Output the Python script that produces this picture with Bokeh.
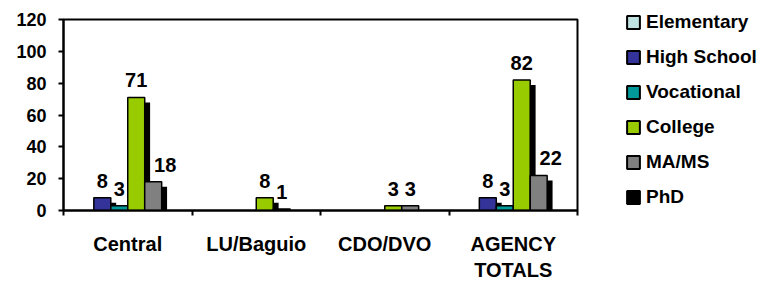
from bokeh.plotting import figure
from bokeh.models import ColumnDataSource, Range1d, FixedTicker, Legend, LegendItem
from bokeh.layouts import row
from bokeh.core.properties import value
from bokeh.embed import file_html
from bokeh.resources import INLINE

categories = ["Central", "LU/Baguio", "CDO/DVO", "AGENCY\nTOTALS"]
series_names = ["Elementary", "High School", "Vocational", "College", "MA/MS", "PhD"]
elementary = [0, 0, 0, 0]
high_school = [8, 0, 0, 8]
vocational = [3, 0, 0, 3]
college = [71, 8, 3, 82]
ma_ms = [18, 1, 3, 22]
phd = [0, 0, 0, 0]
series_values = [elementary, high_school, vocational, college, ma_ms, phd]
colors = ["#BFE2E2", "#333399", "#009999", "#99CC00", "#808080", "#000000"]
y_ticks = [0, 20, 40, 60, 80, 100, 120]

FONT = value("Liberation Sans")
BAR_W = 0.132
SH_DX = 0.042
SH_DY = 3.1

p = figure(width=579, height=283, output_backend="svg", toolbar_location=None,
           x_range=Range1d(0, 4), y_range=Range1d(0, 120),
           min_border_left=63, min_border_right=2, min_border_top=19, min_border_bottom=70)
p.xgrid.visible = False
p.ygrid.visible = False
p.outline_line_color = "black"
p.outline_line_width = 2
p.background_fill_color = "white"
p.border_fill_color = "white"

# shadows first
sh = dict(left=[], right=[], top=[])
for i, vals in enumerate(series_values):
    for c, v in enumerate(vals):
        if v > 0:
            xc = c + 0.5 + (i - 2.5) * BAR_W
            sh["left"].append(xc - BAR_W / 2 + SH_DX)
            sh["right"].append(xc + BAR_W / 2 + SH_DX)
            sh["top"].append(max(0.0, v - SH_DY))
sh["bottom"] = [0] * len(sh["top"])
p.quad(left="left", right="right", top="top", bottom="bottom", source=ColumnDataSource(sh),
       fill_color="black", line_color=None)

lab = dict(x=[], y=[], text=[], xo=[])
for i, (name, vals, col) in enumerate(zip(series_names, series_values, colors)):
    xs = [c + 0.5 + (i - 2.5) * BAR_W for c, v in enumerate(vals) if v > 0]
    tops = [v for v in vals if v > 0]
    src = ColumnDataSource(dict(x=xs, top=tops))
    p.vbar(x="x", top="top", width=BAR_W, bottom=0, source=src,
           fill_color=col, line_color="black", line_width=1.5)
    for c, v in enumerate(vals):
        if v > 0:
            lab["x"].append(c + 0.5 + (i - 2.5) * BAR_W)
            lab["y"].append(v)
            lab["text"].append(str(v))
            prev = series_values[i - 1][c] if i > 0 else 0
            lab["xo"].append(12 if prev > v + 10 else 0)

p.text(x="x", y="y", text="text", x_offset="xo", source=ColumnDataSource(lab),
       text_font=FONT, text_font_style="bold", text_font_size="20px",
       text_align="center", text_baseline="alphabetic", y_offset=-17, text_color="black")

# axes
xa = p.xaxis[0]
xa.ticker = FixedTicker(ticks=[0.5, 1.5, 2.5, 3.5], minor_ticks=[0, 1, 2, 3, 4])
xa.major_label_overrides = {0.5: categories[0], 1.5: categories[1], 2.5: categories[2], 3.5: categories[3]}
xa.major_tick_line_color = None
xa.major_tick_out = 0
xa.major_tick_in = 0
xa.minor_tick_out = 5
xa.minor_tick_in = 0
xa.minor_tick_line_color = "black"
xa.minor_tick_line_width = 2
xa.axis_line_width = 2
xa.axis_line_color = "black"
xa.major_label_standoff = 17
xa.major_label_text_font = "Liberation Sans"
xa.major_label_text_font_style = "bold"
xa.major_label_text_font_size = "20px"
xa.major_label_text_color = "black"

ya = p.yaxis[0]
ya.ticker = FixedTicker(ticks=y_ticks, minor_ticks=[])
ya.major_tick_out = 5
ya.major_tick_in = 0
ya.major_tick_line_width = 2
ya.major_tick_line_color = "black"
ya.minor_tick_line_color = None
ya.axis_line_width = 2
ya.axis_line_color = "black"
ya.major_label_standoff = 12
ya.major_label_text_font = "Liberation Sans"
ya.major_label_text_font_style = "bold"
ya.major_label_text_font_size = "18px"
ya.major_label_text_color = "black"

# legend panel
p2 = figure(width=191, height=283, output_backend="svg", toolbar_location=None,
            x_range=Range1d(0, 1), y_range=Range1d(0, 1),
            min_border=0, min_border_left=0, min_border_right=0, min_border_top=0, min_border_bottom=0)
unaligned = True
try:
    p2.frame_align = False
except Exception:
    unaligned = False
p2.axis.visible = False
p2.grid.visible = False
p2.outline_line_color = None
p2.background_fill_color = "white"
p2.border_fill_color = "white"
items = []
for name, col in zip(series_names, colors):
    r = p2.quad(left=[-5], right=[-4], top=[-4], bottom=[-5],
                fill_color=col, line_color="black", line_width=2)
    items.append(LegendItem(label=name, renderers=[r]))
legend = Legend(items=items, location=(46, 75 if unaligned else 5), orientation="vertical",
                padding=0, margin=0, spacing=13, label_height=22,
                glyph_width=16, glyph_height=16, label_standoff=5,
                border_line_color=None, background_fill_alpha=0,
                label_text_font="Liberation Sans", label_text_font_style="bold",
                label_text_font_size="19px", label_text_color="black")
p2.add_layout(legend, "center")

layout = row(p, p2, spacing=0)
open("out.html", "w").write(file_html(layout, INLINE))
